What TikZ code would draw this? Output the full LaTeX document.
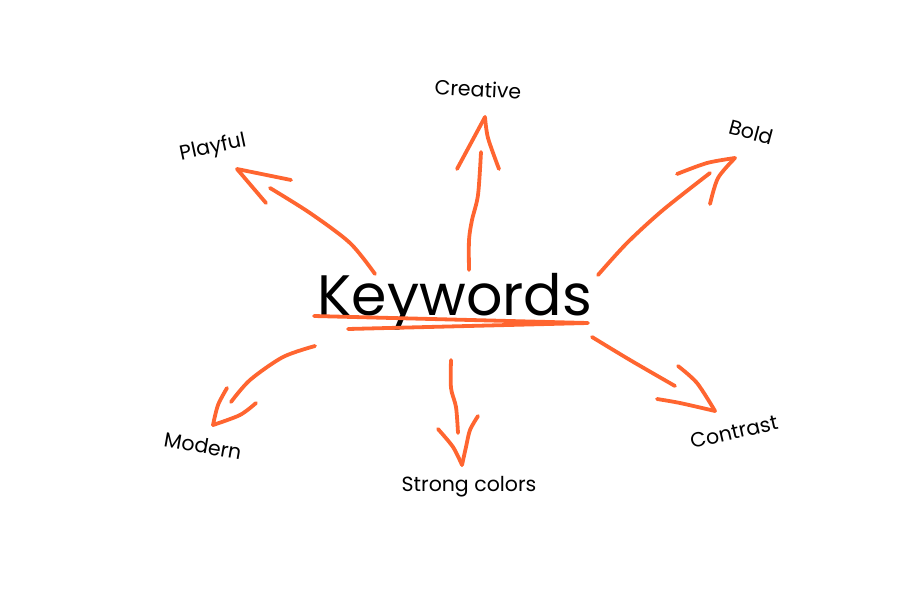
\documentclass[tikz,border=0pt]{standalone}
\usepackage{fontspec}
\setmainfont{Poppins}
\definecolor{marker}{HTML}{FF6530}
\tikzset{
	pen/.style={draw=marker, line width=3.8pt, line cap=round, line join=round},
	tag/.style={font=\fontsize{20.5}{24}\selectfont, inner sep=0pt},
}
\begin{document}
\begin{tikzpicture}[x=1pt, y=-1pt]
	\useasboundingbox (0,0) rectangle (908,608);
	%title
	\node[font=\fontsize{57}{60}\selectfont, inner sep=0pt, anchor=base] (keywords) at (455,315) {Keywords};
	%underline
	\draw[pen] (314,316) -- (588,323) -- (348,329);
	%labels
	\foreach \name/\pos/\ang/\txt in {
		creative/{478,89}/-3/Creative,
		playful/{213,148}/12/Playful,
		bold/{751,132}/-15/Bold,
		modern/{203,446}/-10/Modern,
		strong/{469,487}/0/Strong colors,
		contrast/{734,432}/13/Contrast
	}
	\node[tag, rotate=\ang] (\name) at (\pos) {\txt};
	%ends of the arrows
	\coordinate (creative from) at (469,270);
	\coordinate (creative tip) at (485,117);
	\coordinate (playful from) at (375,274);
	\coordinate (playful tip) at (237,169);
	\coordinate (bold from) at (598,275);
	\coordinate (bold tip) at (735,158);
	\coordinate (modern from) at (315,346);
	\coordinate (modern tip) at (213,425);
	\coordinate (strong from) at (451,360);
	\coordinate (strong tip) at (462,465);
	\coordinate (contrast from) at (592,337);
	\coordinate (contrast tip) at (715,411);
	%arrows
	%Creative
	\draw[pen] plot[smooth] coordinates{(creative from) (469,240) (472,220) (478,195) (481,152)};
	\draw[pen] (457,169) -- (creative tip);
	\draw[pen] plot[smooth] coordinates{(creative tip) (488,138) (499,169)};
	%Playful
	\draw[pen] plot[smooth] coordinates{(playful from) (350,243) (310,213) (270,188)};
	\draw[pen] (291,180) -- (playful tip) -- (266,203);
	%Bold
	\draw[pen] plot[smooth] coordinates{(bold from) (627,243) (663,210) (710,173)};
	\draw[pen] plot[smooth] coordinates{(677,174) (707,163) (bold tip)};
	\draw[pen] plot[smooth] coordinates{(bold tip) (718,178) (710,204)};
	%Modern
	\draw[pen] plot[smooth] coordinates{(modern from) (283,357) (250,380) (231,402)};
	\draw[pen] plot[smooth] coordinates{(227,388) (218,405) (modern tip)};
	\draw[pen] plot[smooth] coordinates{(modern tip) (240,415) (256,403)};
	%Strong colors
	\draw[pen] plot[smooth] coordinates{(strong from) (451,388) (456,407) (458,433)};
	\draw[pen] plot[smooth] coordinates{(438,429) (453,447) (strong tip)};
	\draw[pen] plot[smooth] coordinates{(strong tip) (466,447) (470,430) (478,416)};
	%Contrast
	\draw[pen] plot[smooth] coordinates{(contrast from) (630,360) (675,386)};
	\draw[pen] plot[smooth] coordinates{(678,366) (697,383) (contrast tip)};
	\draw[pen] plot[smooth] coordinates{(657,399) (680,403) (contrast tip)};
\end{tikzpicture}
\end{document}
